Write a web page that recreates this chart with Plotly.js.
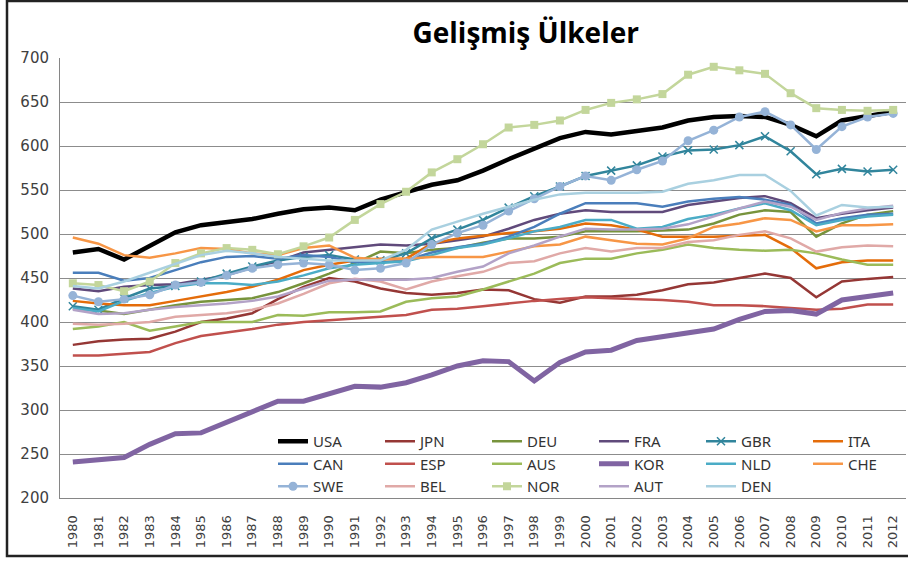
<!DOCTYPE html>
<html>
<head>
<meta charset="utf-8">
<script src="https://cdn.plot.ly/plotly-3.0.1.min.js"></script>
<style>
  html, body { margin: 0; padding: 0; background: #ffffff; }
  #chart { width: 908px; height: 564px; }
</style>
</head>
<body>
<div id="chart"></div>
<script>
const years = [1980,1981,1982,1983,1984,1985,1986,1987,1988,1989,1990,1991,1992,1993,1994,1995,1996,1997,1998,1999,2000,2001,2002,2003,2004,2005,2006,2007,2008,2009,2010,2011,2012];
const yTicks = [200,250,300,350,400,450,500,550,600,650,700];

const USA = [479,483,471,486,502,510,514,517,523,528,530,527,539,548,556,561,572,585,597,609,616,613,617,621,629,633,634,633,624,611,629,634,639];
const JPN = [374,378,380,381,389,400,404,410,426,440,450,446,438,433,431,433,437,436,426,422,429,429,431,436,443,445,450,455,450,428,446,449,451];
const DEU = [415,413,409,414,419,423,425,427,434,444,455,467,480,478,482,484,490,495,495,497,503,503,503,504,505,512,522,527,525,497,512,522,526];
const FRA = [438,435,440,442,443,448,453,462,469,479,482,485,488,487,489,493,497,506,516,523,527,525,525,525,533,537,541,543,535,518,523,527,530];
const GBR = [418,414,427,438,441,446,455,463,470,474,476,471,470,478,495,505,516,530,543,554,566,572,578,588,595,596,601,611,594,568,574,571,573];
const ITA = [424,421,419,419,424,429,434,440,448,459,465,470,472,472,489,495,498,501,503,506,512,510,505,497,497,497,498,499,484,461,468,470,470];
const CAN = [456,456,447,450,459,468,474,475,472,476,474,468,468,470,479,485,489,497,508,523,535,535,535,531,537,540,542,539,533,512,518,522,523];
const ESP = [362,362,364,366,376,384,388,392,397,400,402,404,406,408,414,415,418,421,424,426,428,427,426,425,423,419,419,418,416,414,415,420,420];
const AUS = [392,395,400,390,395,400,400,400,408,407,411,411,412,423,427,429,437,446,455,467,472,472,478,482,488,484,482,481,482,478,471,465,465];
const KOR = [241,243,246,261,273,274,286,297,310,310,319,327,326,331,340,350,356,355,333,354,366,368,379,383,387,392,403,412,413,409,425,429,433];
const NLD = [416,412,424,433,440,444,444,442,446,453,461,465,467,469,476,484,488,495,503,508,516,516,506,508,517,522,529,535,527,510,516,520,522];
const CHE = [496,489,476,473,478,484,483,478,476,484,487,473,471,472,474,474,474,480,486,488,497,493,489,488,495,508,512,518,516,503,510,510,511];
const SWE = [430,423,426,431,442,445,453,461,465,467,465,459,461,467,488,501,510,526,540,554,566,561,573,583,606,618,633,639,624,596,622,633,637];
const BEL = [398,397,398,400,406,408,410,414,421,432,444,449,446,437,446,452,457,467,469,478,484,480,484,484,491,493,499,503,495,480,485,487,486];
const NOR = [444,442,435,446,467,478,484,482,477,486,496,516,534,548,570,585,602,621,624,629,641,649,653,659,681,690,686,682,660,643,641,640,641];
const AUT = [414,409,410,414,417,419,421,424,429,438,447,448,448,448,450,457,463,478,487,497,506,505,505,506,511,520,529,537,531,516,524,529,532];
const DEN = [441,438,446,456,466,476,481,478,474,472,470,470,470,482,505,514,523,531,539,545,547,547,547,548,557,561,567,567,549,521,533,530,531];

const seriesNames = ["USA","JPN","DEU","FRA","GBR","ITA","CAN","ESP","AUS","KOR","NLD","CHE","SWE","BEL","NOR","AUT","DEN"];
const seriesValues = [USA,JPN,DEU,FRA,GBR,ITA,CAN,ESP,AUS,KOR,NLD,CHE,SWE,BEL,NOR,AUT,DEN];

const styles = {
  USA: {color:"#000000", width:4.5},
  JPN: {color:"#953735", width:2.5},
  DEU: {color:"#77933C", width:2.5},
  FRA: {color:"#604A7B", width:2.5},
  GBR: {color:"#31859C", width:2.5, marker:{symbol:"x-thin", size:8, line:{width:1.5, color:"#31859C"}}},
  ITA: {color:"#E46C0A", width:2.5},
  CAN: {color:"#4A7EBB", width:2.5},
  ESP: {color:"#C0504D", width:2.5},
  AUS: {color:"#9BBB59", width:2.5},
  KOR: {color:"#8064A2", width:5},
  NLD: {color:"#4BACC6", width:2.5},
  CHE: {color:"#F79646", width:2.5},
  SWE: {color:"#95B3D7", width:2.5, marker:{symbol:"circle", size:9}},
  BEL: {color:"#E0A9A7", width:2.5},
  NOR: {color:"#C3D69B", width:2.5, marker:{symbol:"square", size:8}},
  AUT: {color:"#B3A2C7", width:2.5},
  DEN: {color:"#A9D0E0", width:2.5}
};

// legend column for each entry (6 columns, filled row by row)
const legendIds = ["legend","legend2","legend3","legend4","legend5","legend6"];

const traces = seriesNames.map((name, i) => {
  const s = styles[name];
  const t = {
    type: "scatter",
    x: years,
    y: seriesValues[i],
    name: name,
    mode: s.marker ? "lines+markers" : "lines",
    line: {color: s.color, width: s.width},
    legend: legendIds[i % 6],
    hoverinfo: "x+y+name"
  };
  if (s.marker) t.marker = Object.assign({color: s.color}, s.marker);
  return t;
});

// plot area in pixels
const PL = 60, PR = 906, PT = 58, PB = 498;
const px2x = p => (p - PL) / (PR - PL);
const px2y = p => (PB - p) / (PB - PT);

const layout = {
  width: 908,
  height: 564,
  margin: {l: PL, r: 908 - PR, t: PT, b: 564 - PB, pad: 0},
  paper_bgcolor: "#ffffff",
  plot_bgcolor: "#ffffff",
  showlegend: true,
  title: {
    text: "<b>Gelişmiş Ülkeler</b>",
    font: {family: "Open Sans", size: 28, color: "#000000"},
    x: 0.579, xref: "container", xanchor: "center",
    y: 0.941, yref: "container", yanchor: "middle"
  },
  xaxis: {
    type: "linear",
    range: [1979.5, 2012.5],
    tickmode: "array",
    tickvals: years,
    ticktext: years.map(String),
    tickangle: -90,
    tickfont: {family: "DejaVu Sans", size: 13, color: "#404040"},
    showgrid: false,
    zeroline: false,
    showline: true,
    linecolor: "#868686",
    linewidth: 1,
    ticks: "",
    ticklabelstandoff: 11,
    fixedrange: true
  },
  yaxis: {
    range: [200, 700],
    tickmode: "array",
    tickvals: yTicks,
    ticktext: yTicks.map(String),
    tickfont: {family: "DejaVu Sans", size: 15, color: "#404040"},
    showgrid: true,
    gridcolor: "#8C8C8C",
    gridwidth: 1,
    zeroline: false,
    showline: true,
    linecolor: "#868686",
    linewidth: 1,
    ticks: "",
    ticklabelstandoff: 7,
    fixedrange: true
  },
  shapes: [
    {type: "rect", xref: "paper", yref: "paper",
     x0: px2x(263), x1: px2x(905), y0: px2y(496), y1: px2y(427),
     line: {width: 0}, fillcolor: "#ffffff", layer: "between"},
    {type: "rect", xref: "paper", yref: "paper",
     x0: px2x(7), x1: px2x(930), y0: px2y(556), y1: px2y(1),
     line: {color: "#222222", width: 2.5}, fillcolor: "rgba(0,0,0,0)", layer: "above"}
  ]
};

legendIds.forEach((id, k) => {
  layout[id] = {
    orientation: "v",
    x: px2x(273 + 107 * k), xref: "paper", xanchor: "left",
    y: px2y(425), yref: "paper", yanchor: "top",
    bgcolor: "rgba(0,0,0,0)",
    borderwidth: 0,
    font: {family: "Noto Sans", size: 15, color: "#333333"},
    itemwidth: 30,
    tracegroupgap: 0,
    traceorder: "normal"
  };
});

Plotly.newPlot("chart", traces, layout, {displayModeBar: false, staticPlot: true});
</script>
</body>
</html>
